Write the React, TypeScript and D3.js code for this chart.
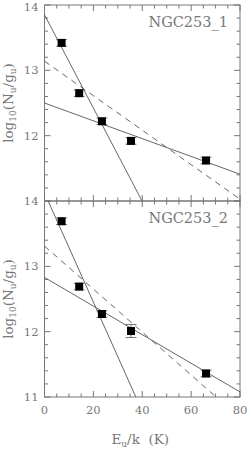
import React, { useEffect, useRef } from 'react';
import * as d3 from 'd3';

// upper-level energies (K) and column densities, one array per source
const energy1 = [7.0, 14.2, 23.5, 35.4, 66.1];
const logN1 = [13.42, 12.65, 12.22, 11.92, 11.62];
const err1 = [0.05, 0.05, 0.05, 0.05, 0.05];

const energy2 = [7.0, 14.2, 23.5, 35.4, 66.1];
const logN2 = [13.69, 12.69, 12.27, 12.01, 11.36];
const err2 = [0.05, 0.05, 0.05, 0.1, 0.05];

// fitted lines: [intercept at 0 K, slope per K]
const fits1 = [
  { a: 13.85, b: -0.0714, dash: false },
  { a: 13.14, b: -0.0264, dash: true },
  { a: 12.5, b: -0.01363, dash: false },
];
const fits2 = [
  { a: 14.125, b: -0.0836, dash: false },
  { a: 13.31, b: -0.0329, dash: true },
  { a: 12.83, b: -0.0219, dash: false },
];

const xTicks = [0, 20, 40, 60, 80];
const yTicks = [11, 12, 13, 14];

const panels = [
  { name: 'NGC253_1', x: energy1, y: logN1, e: err1, fits: fits1, showBottom: false },
  { name: 'NGC253_2', x: energy2, y: logN2, e: err2, fits: fits2, showBottom: true },
];

export default function App() {
  const ref = useRef<SVGSVGElement>(null);

  useEffect(() => {
    const width = 247;
    const height = 450;
    const left = 44.5;
    const right = 240;
    const panelH = 196;
    const top0 = 5;
    const col = '#777';
    const font = "'DejaVu Serif', serif";

    const svg = d3.select(ref.current);
    svg.selectAll('*').remove();
    svg.attr('width', width).attr('height', height).style('font-family', font);

    const x = d3.scaleLinear().domain([0, 80]).range([left, right]);

    panels.forEach((p, pi) => {
      const top = top0 + pi * panelH;
      const bottom = top + panelH;
      const y = d3.scaleLinear().domain([11, 14]).range([bottom, top]);
      const g = svg.append('g');

      const clipId = 'clip' + pi;
      g.append('clipPath').attr('id', clipId)
        .append('rect').attr('x', left).attr('y', top).attr('width', right - left).attr('height', panelH);

      // frame
      g.append('rect')
        .attr('x', left).attr('y', top).attr('width', right - left).attr('height', panelH)
        .attr('fill', 'none').attr('stroke', col).attr('stroke-width', 1);

      // x ticks on top and bottom
      d3.range(0, 81, 5).forEach(v => {
        const len = v % 20 === 0 ? 6 : 3.5;
        g.append('line').attr('x1', x(v)).attr('x2', x(v)).attr('y1', bottom).attr('y2', bottom - len)
          .attr('stroke', col);
        g.append('line').attr('x1', x(v)).attr('x2', x(v)).attr('y1', top).attr('y2', top + len)
          .attr('stroke', col);
      });
      // y ticks on left and right
      d3.range(0, 16).map(i => 11 + i * 0.2).forEach((v, i) => {
        const len = i % 5 === 0 ? 6 : 3.5;
        g.append('line').attr('x1', left).attr('x2', left + len).attr('y1', y(v)).attr('y2', y(v))
          .attr('stroke', col);
        g.append('line').attr('x1', right).attr('x2', right - len).attr('y1', y(v)).attr('y2', y(v))
          .attr('stroke', col);
      });

      // y tick labels
      yTicks.forEach(v => {
        if (pi === 0 && v === 11) return;
        g.append('text').attr('x', left - 6).attr('y', Math.max(y(v) + 4, 10.5))
          .attr('text-anchor', 'end').attr('font-size', 11.5).attr('fill', col).text(v);
      });

      if (p.showBottom) {
        xTicks.forEach(v => {
          g.append('text').attr('x', x(v)).attr('y', bottom + 17)
            .attr('text-anchor', 'middle').attr('font-size', 11.5).attr('fill', col).text(v);
        });
      }

      // fitted lines
      p.fits.forEach(f => {
        g.append('line')
          .attr('x1', x(0)).attr('y1', y(f.a))
          .attr('x2', x(80)).attr('y2', y(f.a + f.b * 80))
          .attr('stroke', '#555').attr('stroke-width', 0.9)
          .attr('stroke-dasharray', f.dash ? '6,5' : null)
          .attr('clip-path', `url(#${clipId})`);
      });

      // error bars and points
      p.x.forEach((xv, i) => {
        const cx = x(xv);
        const y1 = y(p.y[i] - p.e[i]);
        const y2 = y(p.y[i] + p.e[i]);
        g.append('line').attr('x1', cx).attr('x2', cx).attr('y1', y1).attr('y2', y2).attr('stroke', col);
        [y1, y2].forEach(yy => {
          g.append('line').attr('x1', cx - 5.5).attr('x2', cx + 5.5).attr('y1', yy).attr('y2', yy)
            .attr('stroke', col);
        });
        g.append('rect').attr('x', cx - 4).attr('y', y(p.y[i]) - 4).attr('width', 8).attr('height', 8)
          .attr('fill', '#000');
      });

      // panel name
      g.append('text').attr('x', right - 12).attr('y', top + 22)
        .attr('text-anchor', 'end').attr('font-size', 14.5).attr('fill', col).text(p.name);

      // y label
      const yl = g.append('text')
        .attr('transform', `translate(13,${top + panelH / 2}) rotate(-90)`)
        .attr('text-anchor', 'middle').attr('font-size', 13.5).attr('fill', col);
      yl.append('tspan').text('log');
      yl.append('tspan').attr('font-size', 9).attr('dy', 3).text('10');
      yl.append('tspan').attr('dy', -3).text('(N');
      yl.append('tspan').attr('font-size', 9).attr('dy', 3).text('u');
      yl.append('tspan').attr('dy', -3).text('/g');
      yl.append('tspan').attr('font-size', 9).attr('dy', 3).text('u');
      yl.append('tspan').attr('dy', -3).text(')');
    });

    // x label
    const xl = svg.append('text').attr('x', (left + right) / 2 - 2).attr('y', 444)
      .attr('text-anchor', 'middle').attr('font-size', 13.5).attr('fill', col)
      .attr('xml:space', 'preserve').style('white-space', 'pre');
    xl.append('tspan').text('E');
    xl.append('tspan').attr('font-size', 9).attr('dy', 3).text('u');
    xl.append('tspan').attr('dy', -3).text('/k  (K)');
  }, []);

  return (
    <div style={{ position: 'absolute', left: 0, top: 0 }}>
      <svg ref={ref} />
    </div>
  );
}
